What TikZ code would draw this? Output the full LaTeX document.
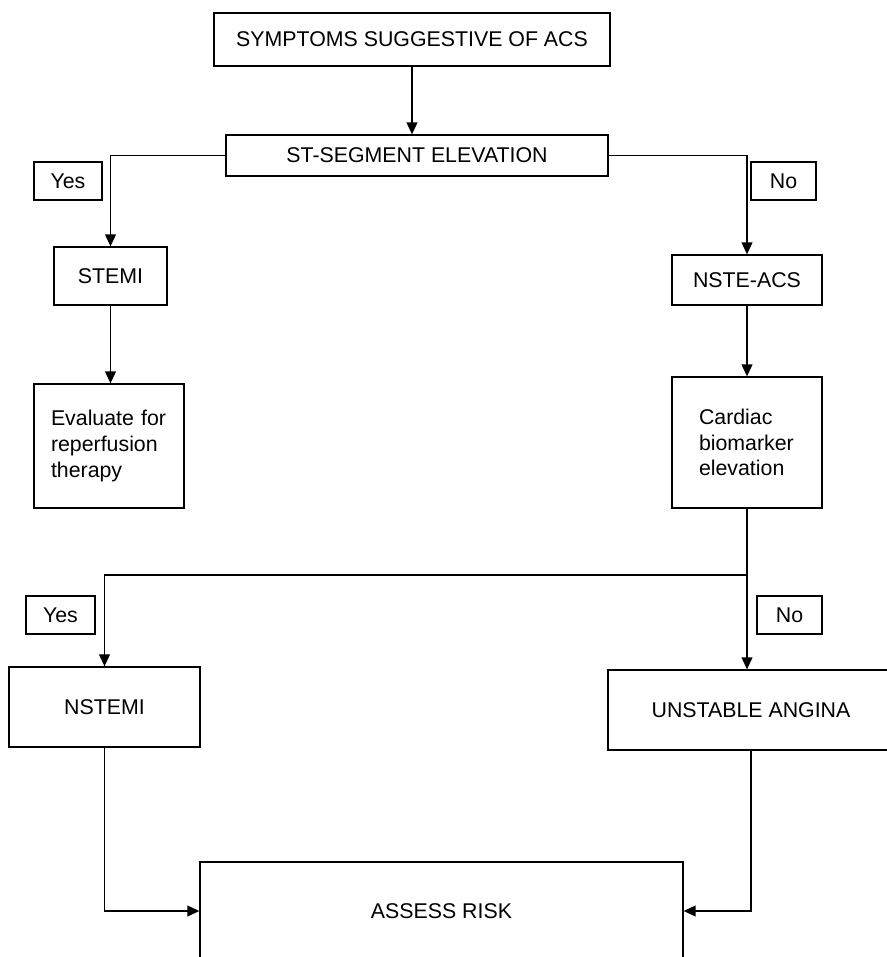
\documentclass[tikz,border=0pt]{standalone}
\usepackage{fontspec}
\setmainfont{Liberation Sans}
\usetikzlibrary{arrows.meta}
\tikzset{
  flowbox/.style 2 args={draw, line width=0.9pt, rectangle, inner sep=0pt,
    minimum width=#1*0.75pt, minimum height=#2*0.75pt,
    font=\fontsize{16}{19.2}\selectfont},
  textbox/.style={align=left, text width=#1},
  flowline/.style={line width=1.4pt},
  flowarrow/.style={flowline, -{Triangle[length=9pt,width=8pt]}},
}
\begin{document}
\begin{tikzpicture}[x=0.75pt, y=-0.75pt]
  \useasboundingbox (0,0) rectangle (887,957);
  \clip (0,0) rectangle (887,957);
  % boxes, one pixel = one unit
  \node[flowbox={396}{53}] (symptoms) at (412,39.5) {SYMPTOMS SUGGESTIVE OF ACS};
  \node[flowbox={382}{41}] (stseg) at (417,155.5) {ST-SEGMENT ELEVATION};
  \node[flowbox={68}{38}] (yesst) at (68,181) {Yes};
  \node[flowbox={65}{38}] (nost) at (783.5,181) {No};
  \node[flowbox={113}{58}] (stemi) at (110.5,276) {STEMI};
  \node[flowbox={150}{124}, textbox=87pt] (evaluate) at (109,446) {Evaluate for\\reperfusion\\therapy};
  \node[flowbox={150}{50}] (nste) at (747,280) {NSTE-ACS};
  \node[flowbox={150}{131}, textbox=72pt] (cardiac) at (747,442.5) {Cardiac\\biomarker\\elevation};
  \node[flowbox={69}{38}] (yesbio) at (60.5,615) {Yes};
  \node[flowbox={65}{38}] (nobio) at (789.5,615) {No};
  \node[flowbox={191}{80}] (nstemi) at (104.5,707) {NSTEMI};
  \node[flowbox={286}{80}] (unstable) at (751,710) {UNSTABLE ANGINA};
  \node[flowbox={483}{98}] (assess) at (441.5,911) {ASSESS RISK};
  \coordinate (split) at (747,575);
  % connectors
  \draw[flowarrow] (symptoms.south) -- (symptoms.south |- stseg.north);
  \draw[flowarrow] (stseg.west) -| (stemi.north);
  \draw[flowarrow] (stseg.east) -| (nste.north);
  \draw[flowarrow] (stemi.south) -- (stemi.south |- evaluate.north);
  \draw[flowarrow] (nste.south) -- (cardiac.north);
  \draw[flowline] (cardiac.south) -- (split);
  \draw[flowarrow] (split) -| (nstemi.north);
  \draw[flowarrow] (split) -- (split |- unstable.north);
  \draw[flowarrow] (nstemi.south) |- (assess.west);
  \draw[flowarrow] (unstable.south) |- (assess.east);
\end{tikzpicture}
\end{document}
